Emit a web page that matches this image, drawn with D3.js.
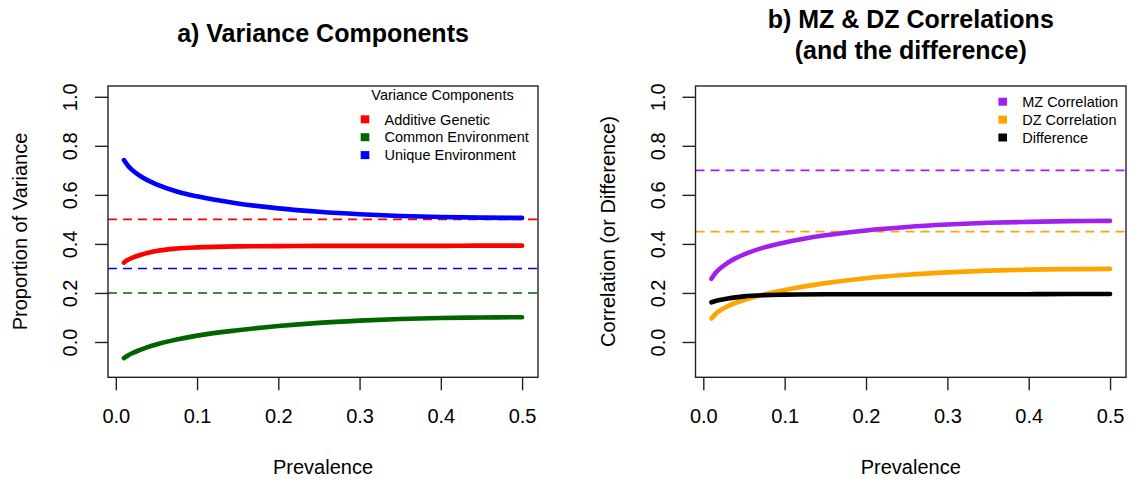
<!DOCTYPE html>
<html>
<head>
<meta charset="utf-8">
<script src="https://cdn.jsdelivr.net/npm/d3@7"></script>
<style>
  body { margin: 0; background: #fff; }
  svg { display: block; font-family: "Liberation Sans", Arial, Helvetica, sans-serif; }
</style>
</head>
<body>
<svg width="1136" height="481"></svg>
<script>
// prevalence grid the curves were read at
const prevalence = [0.01, 0.015, 0.02, 0.03, 0.04, 0.05, 0.075, 0.1, 0.15, 0.2, 0.25, 0.3, 0.35, 0.4, 0.45, 0.5];

// a) variance components (read off the picture)
const additive = [0.324, 0.335, 0.343, 0.355, 0.364, 0.371, 0.381, 0.386, 0.390, 0.391, 0.392, 0.392, 0.392, 0.392, 0.393, 0.393];
const common = [-0.066, -0.055, -0.046, -0.032, -0.020, -0.010, 0.010, 0.026, 0.048, 0.065, 0.078, 0.087, 0.094, 0.098, 0.100, 0.101];
const unique = [0.742, 0.719, 0.702, 0.677, 0.658, 0.643, 0.614, 0.594, 0.565, 0.545, 0.531, 0.521, 0.514, 0.510, 0.507, 0.506];

// b) correlations
const mzCorr = [0.258, 0.281, 0.298, 0.323, 0.342, 0.357, 0.386, 0.406, 0.435, 0.455, 0.469, 0.479, 0.486, 0.490, 0.493, 0.494];
const dzCorr = [0.096, 0.114, 0.127, 0.146, 0.160, 0.171, 0.194, 0.212, 0.240, 0.260, 0.274, 0.284, 0.291, 0.295, 0.297, 0.298];
const difference = [0.162, 0.167, 0.171, 0.177, 0.182, 0.186, 0.191, 0.193, 0.195, 0.195, 0.195, 0.195, 0.195, 0.195, 0.196, 0.196];

// dashed reference values (liability scale)
const refVariance = [0.5, 0.2, 0.3];
const refCorr = [0.7, 0.45];

const xTicks = [0, 0.1, 0.2, 0.3, 0.4, 0.5];
const yTicks = [0, 0.2, 0.4, 0.6, 0.8, 1.0];
const xlim = [0.01, 0.5];
const ylim = [-0.1, 1];

const svg = d3.select("svg");
const font = 20;

// R style 4% axis extension
function pad(lim) {
  const d = (lim[1] - lim[0]) * 0.04;
  return [lim[0] - d, lim[1] + d];
}

function panel(opts) {
  const x = d3.scaleLinear().domain(pad(xlim)).range([opts.left, opts.right]);
  const y = d3.scaleLinear().domain(pad(ylim)).range([377.3, 86]);
  const g = svg.append("g");

  // dashed reference lines
  opts.refs.forEach((r) => {
    g.append("line")
      .attr("x1", opts.left).attr("x2", opts.right)
      .attr("y1", y(r.value)).attr("y2", y(r.value))
      .attr("stroke", r.color)
      .attr("stroke-width", 1.6)
      .attr("stroke-dasharray", "9,6");
  });

  // curves
  const line = d3.line()
    .x((d) => x(d[0]))
    .y((d) => y(d[1]))
    .curve(d3.curveMonotoneX);

  opts.series.forEach((s) => {
    g.append("path")
      .datum(prevalence.map((p, i) => [p, s.values[i]]))
      .attr("fill", "none")
      .attr("stroke", s.color)
      .attr("stroke-width", 4.6)
      .attr("stroke-linecap", "round")
      .attr("stroke-linejoin", "round")
      .attr("d", line);
  });

  // box
  g.append("rect")
    .attr("x", opts.left).attr("y", 86)
    .attr("width", opts.right - opts.left).attr("height", 377.3 - 86)
    .attr("fill", "none")
    .attr("stroke", "#222")
    .attr("stroke-width", 1.4);

  // x axis
  const xa = g.append("g")
    .attr("transform", "translate(0,377.3)")
    .call(d3.axisBottom(x).tickValues(xTicks).tickFormat(d3.format(".1f")).tickSize(13).tickPadding(19));
  xa.select(".domain").remove();
  xa.selectAll("line").attr("stroke", "#222").attr("stroke-width", 1.4);
  xa.selectAll("text").attr("font-size", font).attr("fill", "#000").attr("font-family", null);

  // y axis with rotated labels
  const ya = g.append("g")
    .attr("transform", `translate(${opts.left},0)`)
    .call(d3.axisLeft(y).tickValues(yTicks).tickFormat(d3.format(".1f")).tickSize(13));
  ya.select(".domain").remove();
  ya.selectAll("line").attr("stroke", "#222").attr("stroke-width", 1.4);
  ya.selectAll("text")
    .attr("font-size", font).attr("fill", "#000").attr("font-family", null)
    .attr("x", null).attr("dy", null)
    .attr("text-anchor", "middle")
    .attr("transform", "translate(-31,0) rotate(-90)");

  // axis titles
  const cx = (opts.left + opts.right) / 2;
  g.append("text")
    .attr("x", cx).attr("y", 474)
    .attr("text-anchor", "middle")
    .attr("font-size", font)
    .text("Prevalence");
  g.append("text")
    .attr("transform", `translate(${opts.left - 81},231.5) rotate(-90)`)
    .attr("text-anchor", "middle")
    .attr("font-size", font)
    .text(opts.ylab);

  // main title
  opts.title.forEach((t, i) => {
    g.append("text")
      .attr("x", cx).attr("y", opts.titleY + i * 31)
      .attr("text-anchor", "middle")
      .attr("font-size", 25)
      .attr("font-weight", "bold")
      .text(t);
  });

  // legend
  const lg = g.append("g");
  if (opts.legendTitle) {
    lg.append("text")
      .attr("x", opts.legendTitle.x).attr("y", opts.legendTitle.y)
      .attr("text-anchor", "middle")
      .attr("font-size", 14.5)
      .text(opts.legendTitle.text);
  }
  opts.series.forEach((s, i) => {
    const yy = opts.legendY + i * 17.9;
    lg.append("rect")
      .attr("x", opts.legendX - 4.3).attr("y", yy - 4)
      .attr("width", 8.6).attr("height", 8)
      .attr("fill", s.color);
    lg.append("text")
      .attr("x", opts.legendX + 19.5).attr("y", yy + 5.2)
      .attr("font-size", 14.5)
      .text(s.name);
  });
}

panel({
  left: 108, right: 538,
  title: ["a) Variance Components"], titleY: 42,
  ylab: "Proportion of Variance",
  series: [
    { name: "Additive Genetic", color: "#FF0000", values: additive },
    { name: "Common Environment", color: "#006400", values: common },
    { name: "Unique Environment", color: "#0000FF", values: unique },
  ],
  refs: [
    { value: refVariance[0], color: "#FF0000" },
    { value: refVariance[1], color: "#006400" },
    { value: refVariance[2], color: "#0000FF" },
  ],
  legendTitle: { text: "Variance Components", x: 442.5, y: 100 },
  legendX: 365, legendY: 119.3,
});

panel({
  left: 695.5, right: 1126,
  title: ["b) MZ & DZ Correlations", "(and the difference)"], titleY: 28,
  ylab: "Correlation (or Difference)",
  series: [
    { name: "MZ Correlation", color: "#A020F0", values: mzCorr },
    { name: "DZ Correlation", color: "#FFA500", values: dzCorr },
    { name: "Difference", color: "#000000", values: difference },
  ],
  refs: [
    { value: refCorr[0], color: "#A020F0" },
    { value: refCorr[1], color: "#FFA500" },
  ],
  legendX: 1002.7, legendY: 101.7,
});
</script>
</body>
</html>
